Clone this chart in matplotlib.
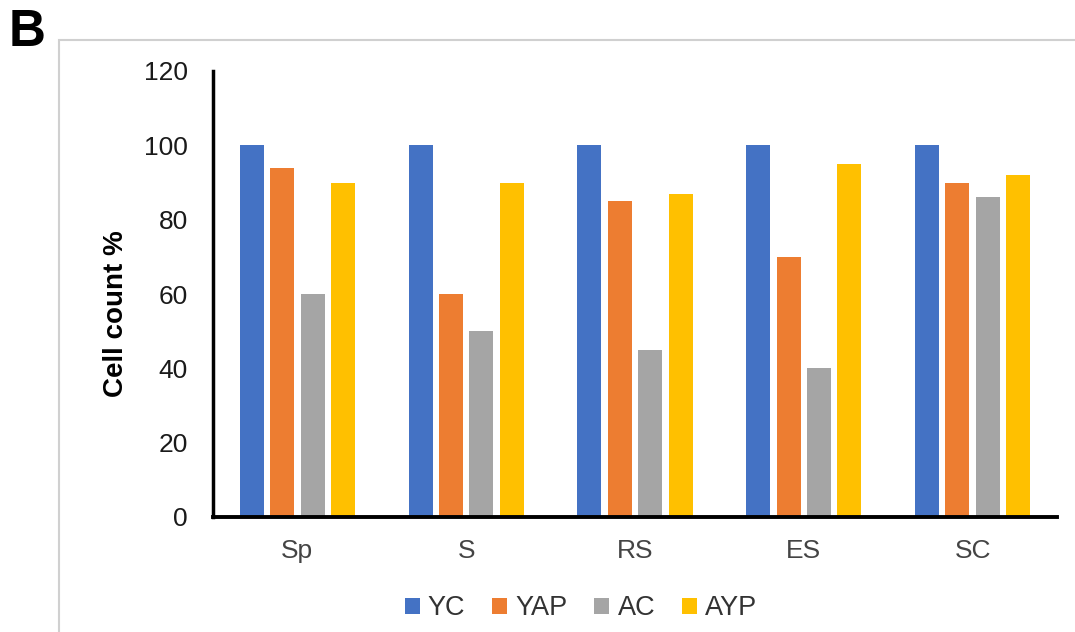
import numpy as np
import matplotlib
import matplotlib.pyplot as plt
from matplotlib.patches import Rectangle

matplotlib.use('Agg')
plt.rcParams['font.family'] = ['Liberation Sans', 'DejaVu Sans']

stages = ["Sp", "S", "RS", "ES", "SC"]
series_names = ["YC", "YAP", "AC", "AYP"]
yc = [100, 100, 100, 100, 100]
yap = [94, 60, 85, 70, 90]
ac = [60, 50, 45, 40, 86]
ayp = [90, 90, 87, 95, 92]
colors = ["#4472C4", "#ED7D31", "#A5A5A5", "#FFC000"]


def plot_cell_counts():
    fig = plt.figure(figsize=(10.75, 6.32), dpi=100)
    # light frame around the panel
    fig.patches.append(Rectangle((59 / 1075, -0.1), 1.0, 0.1 + 1 - 40 / 632,
                                 transform=fig.transFigure, fill=False,
                                 edgecolor="#d0d0d0", linewidth=1.5))
    fig.text(0.008, 0.988, "B", fontsize=37, fontweight="bold", va="top")

    ax = fig.add_axes([213 / 1075, 1 - 517 / 632, (1057 - 213) / 1075, (517 - 71) / 632])
    x = np.arange(len(stages))
    step = 0.18
    width = 0.142
    for i, (vals, name) in enumerate(zip([yc, yap, ac, ayp], series_names)):
        ax.bar(x + (i - 1.5) * step, vals, width, color=colors[i], label=name)

    ax.set_xlim(-0.5, len(stages) - 0.5)
    ax.set_ylim(0, 120)
    ax.set_yticks(range(0, 121, 20))
    ax.set_xticks(x)
    ax.set_xticklabels(stages)
    ax.tick_params(axis="both", length=0, labelsize=19, labelcolor="#1a1a1a")
    ax.tick_params(axis="y", pad=18)
    ax.tick_params(axis="x", pad=16)
    for lbl in ax.get_xticklabels():
        lbl.set_color("#444444")
    ax.spines["top"].set_visible(False)
    ax.spines["right"].set_visible(False)
    ax.spines["left"].set_linewidth(2.5)
    ax.spines["bottom"].set_linewidth(2.8)
    ax.set_ylabel("Cell count %", fontsize=20, fontweight="bold")
    ax.yaxis.set_label_coords(-0.100, 0.455)

    ax.legend(loc="center", bbox_to_anchor=(0.436, -0.205), ncol=4, frameon=False,
              fontsize=19.5, handlelength=0.55, handleheight=0.55, handletextpad=0.3,
              columnspacing=1.0, labelcolor="#333333")
    plt.savefig("out.png", dpi=100)


if __name__ == "__main__":
    plot_cell_counts()
